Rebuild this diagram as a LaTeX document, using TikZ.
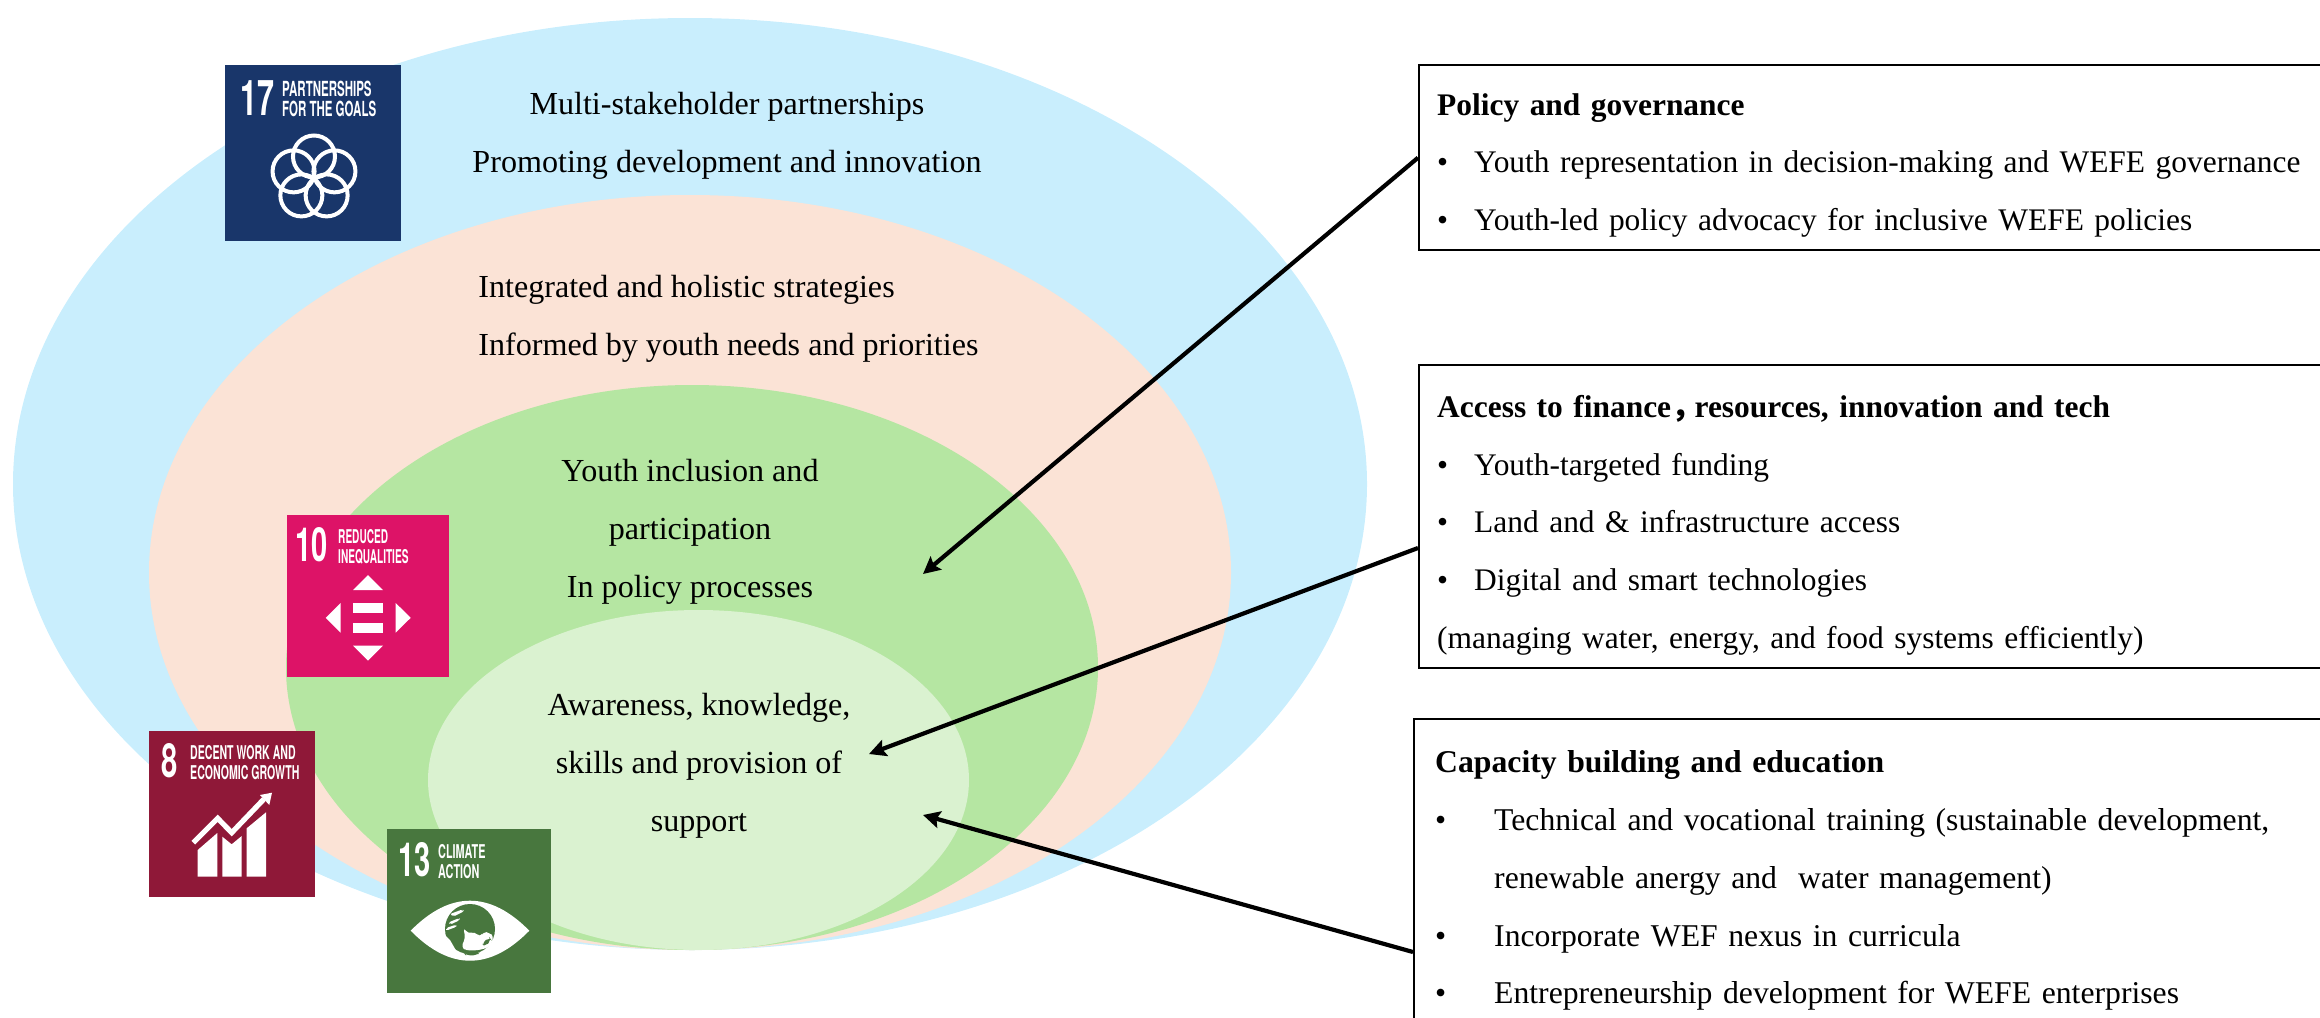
\documentclass[tikz,border=0pt]{standalone}
\usepackage{fontspec}
\setmainfont{Liberation Serif}
\newfontfamily\tilefont{TeX Gyre Heros}
\newfontfamily\cjkfont{Noto Sans CJK SC}
\usetikzlibrary{arrows.meta}
\definecolor{outerblue}{HTML}{C9EEFD}
\definecolor{peach}{HTML}{FBE3D6}
\definecolor{midgreen}{HTML}{B5E6A2}
\definecolor{palegreen}{HTML}{DAF2D0}
\definecolor{sdgnavy}{HTML}{19366A}
\definecolor{sdgpink}{HTML}{DD1367}
\definecolor{sdgwine}{HTML}{8F1838}
\definecolor{sdggreen}{HTML}{48773E}
\newcommand{\itemA}[1]{\makebox[18.5pt][l]{\textbullet}#1}
\newcommand{\itemB}[1]{\makebox[29.5pt][l]{\textbullet}#1}
\newcommand{\nudge}[1]{\rule{0pt}{#1}}
\begin{document}
\begin{tikzpicture}[
  x=0.5pt, y=-0.5pt,
  every node/.style = {font=\fontsize{16.05}{28.9}\selectfont, align=center, inner sep=0pt},
  infobox/.style = {draw, line width=1.2pt, fill=white, anchor=north west, align=left,
    font=\fontsize{15.72}{28.9}\selectfont, inner xsep=9pt, inner ysep=0pt, text width=460pt},
  tile/.style = {anchor=north west, minimum width=#1*0.5pt, minimum height=#1*0.5pt},
  tilenum/.style = {anchor=west, text=white, transform shape, xscale=0.62,
    font=\tilefont\fontsize{23.5}{23.5}\selectfont\bfseries},
  tiletext/.style = {anchor=north west, align=left, text=white, transform shape, xscale=#1,
    font=\tilefont\fontsize{9.5}{9.8}\selectfont\bfseries},
  link/.style = {line width=2.1pt, -{Stealth[length=8.5pt,width=8.5pt,inset=1.5pt]}}
  ]
  \useasboundingbox (0,0) rectangle (2320,1018);
  \clip (0,0) rectangle (2320,1018);

  % nested ellipses
  \fill[outerblue] (690,484) ellipse [x radius=677, y radius=466];
  \fill[peach] (690,572.5) ellipse [x radius=541, y radius=377.5];
  \fill[midgreen] (692,667.5) ellipse [x radius=406, y radius=282.5];
  \fill[palegreen] (698.5,780) ellipse [x radius=270.5, y radius=170];

  \node (partner) at (727,136) {Multi-stakeholder partnerships\\Promoting development and innovation};
  \node[align=left, anchor=west] (strategy) at (478,319) {Integrated and holistic strategies\\Informed by youth needs and priorities};
  \node (inclusion) at (690,532) {Youth inclusion and\\participation\\In policy processes};
  \node (awareness) at (699,766) {Awareness, knowledge,\\skills and provision of\\support};

  % SDG tiles
  \node[tile=176, fill=sdgnavy] (goal17) at (225,65) {};
  \node[tilenum, font=\tilefont\fontsize{24.6}{24.6}\selectfont\bfseries] (num17) at (240,98) {17};
  \node[tiletext=0.553, font=\tilefont\fontsize{10.4}{10}\selectfont\bfseries] (txt17) at (282,81) {PARTNERSHIPS\\FOR THE GOALS};
  \foreach \ang in {90,162,234,306,378}
    \draw[white, line width=2pt] (314,178) ++(\ang:21.5 and -21.5) circle [radius=21];

  \node[tile=162, fill=sdgpink] (goal10) at (287,515) {};
  \node[tilenum] (num10) at (295,544.5) {10};
  \node[tiletext=0.531] (txt10) at (338,529) {REDUCED\\INEQUALITIES};
  \fill[white] (368,575) -- (383,590) -- (353,590) -- cycle;
  \fill[white] (353,645.7) -- (383,645.7) -- (368,660.7) -- cycle;
  \fill[white] (325.7,617.8) -- (340.7,603) -- (340.7,632.7) -- cycle;
  \fill[white] (410.7,617.8) -- (395.7,603) -- (395.7,632.7) -- cycle;
  \fill[white] (352.7,603.3) rectangle (383.3,613.3);
  \fill[white] (352.7,622.7) rectangle (383.3,632.7);

  \node[tile=166, fill=sdgwine] (goal8) at (149,731) {};
  \node[tilenum] (num8) at (161,761) {8};
  \node[tiletext=0.556] (txt8) at (190,745) {DECENT WORK AND\\ECONOMIC GROWTH};
  \fill[white] (197.7,876.7) -- (197.7,850) -- (217.3,833) -- (217.3,876.7) -- cycle;
  \fill[white] (222.3,876.7) -- (222.3,836.7) -- (231.7,844.3) -- (241.7,836) -- (241.7,876.7) -- cycle;
  \fill[white] (246.7,876.7) -- (246.7,828.3) -- (266,812.3) -- (266,876.7) -- cycle;
  \draw[white, line width=2.6pt] (193.3,842.7) -- (217.7,818.3) -- (231.7,832.7) -- (264,799);
  \fill[white] (260,795) -- (272,792.7) -- (269.3,805) -- cycle;

  \node[tile=164, fill=sdggreen] (goal13) at (387,829) {};
  \node[tilenum] (num13) at (398,859.7) {13};
  \node[tiletext=0.57] (txt13) at (438,844) {CLIMATE\\ACTION};
  \fill[white] (410.7,930.7) .. controls (450,890.7) and (490,890.7) .. (529.3,930.7)
    .. controls (490,970.7) and (450,970.7) .. (410.7,930.7) -- cycle;
  \fill[sdggreen] (470,929) circle [radius=25];
  % sea on the globe, in crop coordinates
  \begin{scope}[shift={(400,890)}, x=0.1667pt, y=-0.1667pt]
    \fill[white, rounded corners=2pt] (190,112) -- (205,132) -- (225,125) -- (240,142) -- (250,125) -- (268,128)
      -- (282,140) -- (270,170) -- (240,180) -- (200,182) -- (183,172) -- (196,145) -- cycle;
    \fill[sdggreen, rounded corners=2pt] (245,160) -- (268,142) -- (274,150) -- (255,170) -- cycle;
    \fill[sdggreen, rounded corners=2pt] (190,188) -- (215,182) -- (240,184) -- (232,196) -- (198,196) -- cycle;
    \fill[white, rounded corners=1pt] (150,72) -- (188,58) -- (192,64) -- (160,80) -- cycle;
    \fill[white, rounded corners=1pt] (146,97) -- (178,84) -- (180,90) -- (150,104) -- cycle;
    \fill[white, rounded corners=1pt] (138,114) -- (168,104) -- (170,110) -- (138,122) -- cycle;
    \fill[white] (134,135) -- (150,150) -- (170,185) -- (150,170) -- cycle;
  \end{scope}

  % boxes on the right
  \node[infobox, minimum height=185pt*0.5] (policy) at (1418,64) {\nudge{18.5pt}\textbf{Policy and governance}\\
    \itemA{Youth representation in decision-making and WEFE governance}\\
    \itemA{Youth-led policy advocacy for inclusive WEFE policies}};
  \node[infobox, minimum height=303pt*0.5] (access) at (1418,364) {\nudge{19.5pt}\textbf{Access to finance{\cjkfont，}\hspace{-4pt}resources, innovation and tech}\\
    \itemA{Youth-targeted funding}\\
    \itemA{Land and \& infrastructure access}\\
    \itemA{Digital and smart technologies}\\
    (managing water, energy, and food systems efficiently)};
  \node[infobox, inner xsep=10.5pt, font=\fontsize{15.85}{28.9}\selectfont, minimum height=316pt*0.5] (capacity) at (1413,718) {\nudge{14.5pt}\textbf{Capacity building and education}\\
    \itemB{Technical and vocational training (sustainable development,}\\
    \hspace{29.5pt}renewable anergy and\ \ water management)\\
    \itemB{Incorporate WEF nexus in curricula}\\
    \itemB{Entrepreneurship development for WEFE enterprises}};

  % arrows
  \coordinate (tipA) at (923,574);
  \coordinate (tipB) at (869,754);
  \coordinate (tipC) at (923,815);
  \coordinate (startB) at (1418,548);
  \coordinate (startC) at (1413,952);
  \draw[link] (policy.west) -- (tipA);
  \draw[link] (startB) -- (tipB);
  \draw[link] (startC) -- (tipC);
\end{tikzpicture}
\end{document}
